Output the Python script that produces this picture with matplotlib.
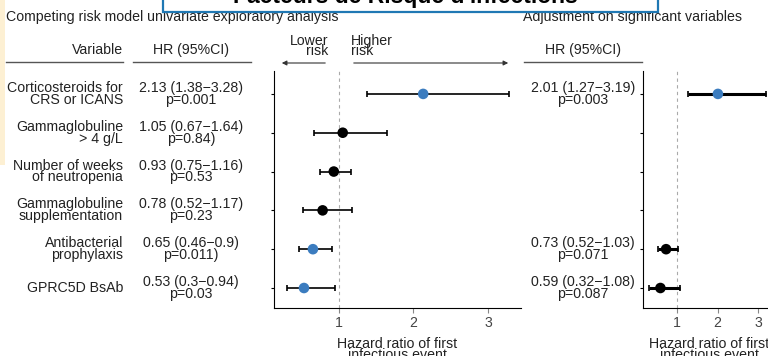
import matplotlib
matplotlib.use("Agg")
import matplotlib.pyplot as plt
from matplotlib import transforms
from matplotlib.patches import Rectangle, FancyArrowPatch

plt.rcParams['font.family'] = ['Liberation Sans', 'DejaVu Sans']

# données : analyse univariée
variables = ["Corticosteroids for\nCRS or ICANS", "Gammaglobuline\n> 4 g/L",
             "Number of weeks\nof neutropenia", "Gammaglobuline\nsupplementation",
             "Antibacterial\nprophylaxis", "GPRC5D BsAb"]
hr = [2.13, 1.05, 0.93, 0.78, 0.65, 0.53]
lo = [1.38, 0.67, 0.75, 0.52, 0.46, 0.30]
hi = [3.28, 1.64, 1.16, 1.17, 0.90, 0.94]
hr_txt = ["2.13 (1.38\u22123.28)\np=0.001", "1.05 (0.67\u22121.64)\np=0.84)",
          "0.93 (0.75\u22121.16)\np=0.53", "0.78 (0.52\u22121.17)\np=0.23",
          "0.65 (0.46\u22120.9)\np=0.011)", "0.53 (0.3\u22120.94)\np=0.03"]
significant = [True, False, False, False, True, True]

# données : modèle ajusté
adj_rows = [0, 4, 5]
adj_hr = [2.01, 0.73, 0.59]
adj_lo = [1.27, 0.52, 0.32]
adj_hi = [3.19, 1.03, 1.08]
adj_txt = ["2.01 (1.27\u22123.19)\np=0.003", "0.73 (0.52\u22121.03)\np=0.071",
           "0.59 (0.32\u22121.08)\np=0.087"]
adj_significant = [True, False, False]

x_ticks = [1, 2, 3]

W, H = 768, 356
BLUE = '#3b7cbf'
TXT = '#222222'
FS = 10.2
LS = 0.8


def fx(px):
    return px / W


def fy(py):
    return 1 - py / H


fig = plt.figure(figsize=(W / 100, H / 100), dpi=100)

# fond de la diapo
fig.patches.append(Rectangle((0, fy(165)), fx(5), 1 - fy(165), transform=fig.transFigure,
                             facecolor='#fdf0d3', edgecolor='none', zorder=0))

ax1 = fig.add_axes([fx(274), fy(308), (521 - 274) / W, (308 - 71) / H])
ax2 = fig.add_axes([fx(643), fy(308), (775 - 643) / W, (308 - 71) / H])

rows = list(range(len(variables)))


def forest(ax, x, y, l, h, sig, lw, xlim):
    ax.axvline(1, color='#aaaaaa', lw=0.8, dashes=(3, 3), zorder=1)
    xerr = [[a - b for a, b in zip(x, l)], [b - a for a, b in zip(x, h)]]
    ax.errorbar(x, y, xerr=xerr, fmt='none', ecolor='black', elinewidth=lw,
                capsize=2.5, capthick=1.2, zorder=2)
    cols = [BLUE if s else 'black' for s in sig]
    ax.scatter(x, y, s=58, c=cols, zorder=3, linewidths=0)
    ax.set_xlim(*xlim)
    ax.set_ylim(len(variables) - 1 + 0.515, -0.59)
    ax.set_yticks(rows)
    ax.set_yticklabels([])
    ax.set_xticks(x_ticks)
    ax.tick_params(axis='y', length=2.5, width=0.8, color='black')
    ax.tick_params(axis='x', length=3.5, width=0.8, color='#888888',
                   labelsize=FS, labelcolor='#444444', pad=2)
    for s in ['top', 'right']:
        ax.spines[s].set_visible(False)
    for s in ['left', 'bottom']:
        ax.spines[s].set_linewidth(0.8)
    ax.set_xlabel("Hazard ratio of first\ninfectious event", fontsize=FS,
                  color=TXT, linespacing=0.75, labelpad=5)
    ax.patch.set_alpha(0)


forest(ax1, hr, rows, lo, hi, significant, 1.2, (0.1275, 3.443))
forest(ax2, adj_hr, adj_rows, adj_lo, adj_hi, adj_significant, 2.2, (0.16, 3.42))

# colonnes de texte
tr1 = transforms.blended_transform_factory(fig.transFigure, ax1.transData)
for i, (v, t) in enumerate(zip(variables, hr_txt)):
    fig.text(fx(123), i, v, transform=tr1, ha='right', va='center',
             fontsize=FS, color=TXT, linespacing=LS)
    fig.text(fx(191), i, t, transform=tr1, ha='center', va='center',
             fontsize=FS, color=TXT, linespacing=LS)
for r, t in zip(adj_rows, adj_txt):
    fig.text(fx(583), r, t, transform=tr1, ha='center', va='center',
             fontsize=FS, color=TXT, linespacing=LS)

# en-têtes
fig.text(fx(6), fy(17), "Competing risk model univariate exploratory analysis",
         ha='left', va='center', fontsize=FS, color=TXT)
fig.text(fx(523), fy(17), "Adjustment on significant variables",
         ha='left', va='center', fontsize=FS, color=TXT)
fig.text(fx(123), fy(50), "Variable", ha='right', va='center', fontsize=FS, color=TXT)
fig.text(fx(191), fy(50), "HR (95%CI)", ha='center', va='center', fontsize=FS, color=TXT)
fig.text(fx(583), fy(50), "HR (95%CI)", ha='center', va='center', fontsize=FS, color=TXT)
for a, b in [(6, 123), (133, 251), (524, 642)]:
    fig.add_artist(plt.Line2D([fx(a), fx(b)], [fy(62), fy(62)], color='#555555', lw=1.0))

fig.text(fx(328), fy(46), "Lower\nrisk", ha='right', va='center', fontsize=FS,
         color=TXT, linespacing=0.68)
fig.text(fx(351), fy(46), "Higher\nrisk", ha='left', va='center', fontsize=FS,
         color=TXT, linespacing=0.68)
arrow = dict(arrowstyle='-|>', lw=0.8, color='#333333', mutation_scale=7)
fig.add_artist(FancyArrowPatch((fx(328), fy(63)), (fx(279), fy(63)),
                               transform=fig.transFigure, **arrow))
fig.add_artist(FancyArrowPatch((fx(351), fy(63)), (fx(511), fy(63)),
                               transform=fig.transFigure, **arrow))

# titre de la diapo (coupé en haut)
fig.patches.append(Rectangle((fx(163), fy(12)), fx(658) - fx(163), 0.2,
                             transform=fig.transFigure, facecolor='white',
                             edgecolor='#1f78b4', lw=1.6, zorder=5))
fig.text(fx(405), fy(3), "Facteurs de Risque d'infections", ha='center',
         va='baseline', fontsize=16.5, fontweight='bold', color='black', zorder=6)

fig.savefig("out.png", dpi=100)
